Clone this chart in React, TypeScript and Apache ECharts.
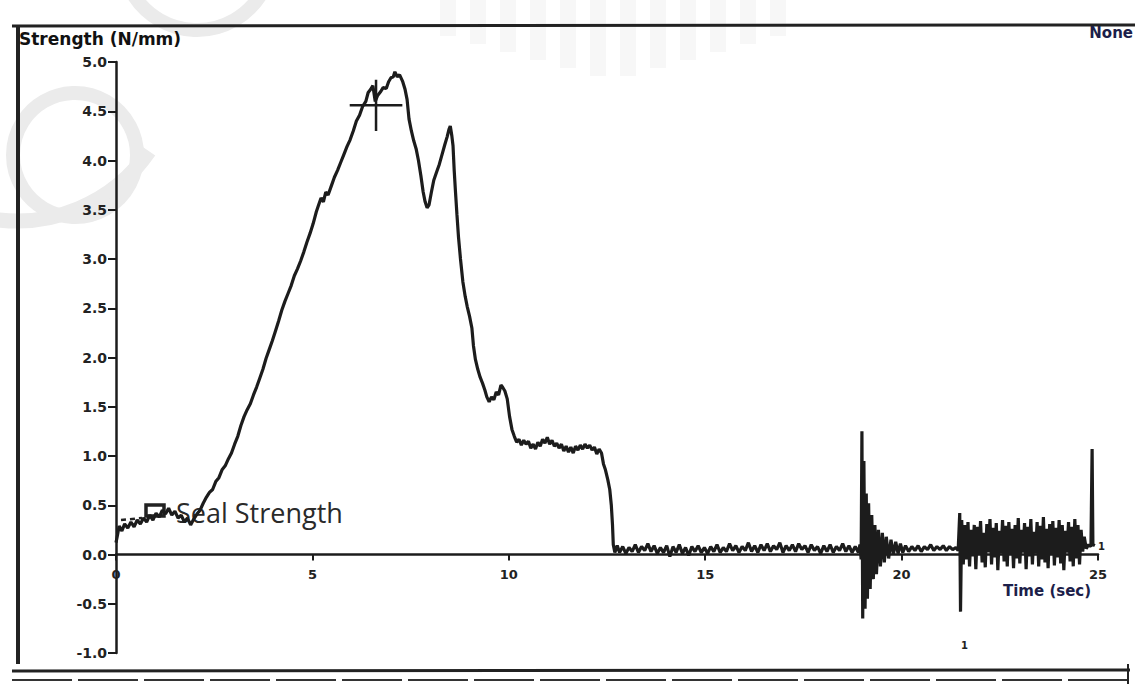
import React, { useEffect, useRef } from "react";
import * as echarts from "echarts";

// Seal strength trace, [time (s), strength (N/mm)]
const startPlateau: [number, number][] = [
  [0, 0.12], [0.04, 0.2], [0.08, 0.29], [0.15, 0.24], [0.22, 0.31], [0.3, 0.27], [0.38, 0.33],
  [0.46, 0.28], [0.54, 0.35], [0.62, 0.31], [0.7, 0.37], [0.78, 0.33], [0.86, 0.4], [0.94, 0.35],
  [1.02, 0.42], [1.1, 0.38], [1.18, 0.45], [1.26, 0.41], [1.34, 0.47], [1.42, 0.4], [1.5, 0.44],
  [1.58, 0.37], [1.66, 0.4], [1.74, 0.33], [1.82, 0.37], [1.9, 0.3], [1.98, 0.36], [2.06, 0.41],
];

const loadingRamp: [number, number][] = [
  [2.14, 0.45], [2.22, 0.52], [2.3, 0.58], [2.38, 0.63], [2.46, 0.66], [2.54, 0.74], [2.62, 0.78],
  [2.7, 0.86], [2.78, 0.9], [2.86, 0.97], [2.94, 1.03], [3.02, 1.12], [3.1, 1.2], [3.18, 1.31],
  [3.26, 1.4], [3.34, 1.47], [3.42, 1.53], [3.5, 1.62], [3.58, 1.7], [3.66, 1.79], [3.74, 1.88],
  [3.82, 1.99], [3.9, 2.08], [3.98, 2.17], [4.06, 2.27], [4.14, 2.37], [4.22, 2.48], [4.3, 2.57],
  [4.38, 2.65], [4.46, 2.73], [4.54, 2.83], [4.62, 2.9], [4.7, 2.98], [4.78, 3.07], [4.86, 3.17],
  [4.94, 3.26], [5.02, 3.36], [5.1, 3.48], [5.16, 3.55], [5.22, 3.62], [5.28, 3.58], [5.34, 3.68],
  [5.4, 3.65], [5.48, 3.74], [5.56, 3.83], [5.64, 3.9], [5.72, 3.98], [5.8, 4.06], [5.88, 4.14],
  [5.96, 4.21], [6.04, 4.3], [6.12, 4.4], [6.2, 4.46], [6.28, 4.55], [6.36, 4.6], [6.42, 4.69],
  [6.48, 4.72], [6.54, 4.76], [6.6, 4.6], [6.66, 4.66], [6.74, 4.7], [6.8, 4.74], [6.88, 4.73],
  [6.94, 4.8], [7.0, 4.84], [7.06, 4.85], [7.1, 4.9], [7.16, 4.85], [7.22, 4.87], [7.3, 4.8],
];

const peelRegion: [number, number][] = [
  [7.36, 4.72], [7.41, 4.62], [7.46, 4.42], [7.52, 4.3], [7.58, 4.2], [7.64, 4.12], [7.7, 4.0],
  [7.76, 3.85], [7.82, 3.68], [7.87, 3.58], [7.92, 3.52], [7.97, 3.55], [8.03, 3.68], [8.09, 3.8],
  [8.16, 3.88], [8.23, 3.96], [8.3, 4.06], [8.37, 4.16], [8.43, 4.24], [8.48, 4.32], [8.51, 4.35],
  [8.55, 4.25], [8.58, 4.15], [8.61, 3.9], [8.64, 3.7], [8.68, 3.45], [8.72, 3.22], [8.77, 3.0],
  [8.83, 2.77], [8.89, 2.62], [8.94, 2.52], [9.0, 2.42], [9.06, 2.3], [9.1, 2.12], [9.15, 1.98],
  [9.21, 1.88], [9.27, 1.8], [9.33, 1.74], [9.39, 1.67], [9.44, 1.6], [9.5, 1.55], [9.56, 1.6],
  [9.62, 1.57], [9.68, 1.65], [9.74, 1.62], [9.8, 1.72], [9.84, 1.7], [9.9, 1.66], [9.96, 1.58],
  [10.02, 1.4], [10.08, 1.27], [10.14, 1.2], [10.2, 1.14], [10.26, 1.17], [10.32, 1.11], [10.38, 1.16],
  [10.44, 1.12], [10.5, 1.15], [10.56, 1.08], [10.62, 1.12], [10.68, 1.07], [10.74, 1.14], [10.8, 1.1],
  [10.86, 1.17], [10.92, 1.13], [10.98, 1.19], [11.04, 1.12], [11.1, 1.16], [11.16, 1.1], [11.22, 1.13],
  [11.28, 1.08], [11.34, 1.12], [11.4, 1.05], [11.46, 1.1], [11.52, 1.04], [11.58, 1.09], [11.64, 1.03],
  [11.7, 1.1], [11.76, 1.06], [11.82, 1.11], [11.88, 1.07], [11.94, 1.12], [12.0, 1.08], [12.06, 1.11],
  [12.12, 1.06], [12.18, 1.09], [12.24, 1.02], [12.3, 1.07], [12.36, 1.03], [12.41, 0.92], [12.46, 0.86],
  [12.52, 0.76], [12.57, 0.66], [12.61, 0.5], [12.64, 0.3], [12.66, 0.1], [12.7, 0.02],
];

const residualNoise: [number, number][] = [
  [12.76, 0.09], [12.82, 0.02], [12.9, 0.08], [12.98, 0.01], [13.06, 0.07], [13.14, 0.03], [13.22, 0.1],
  [13.3, 0.02], [13.38, 0.08], [13.46, 0.04], [13.54, 0.11], [13.62, 0.03], [13.7, 0.09], [13.78, 0.01],
  [13.86, 0.07], [13.94, 0.02], [14.02, 0.09], [14.1, -0.02], [14.18, 0.08], [14.26, 0.02], [14.34, 0.1],
  [14.42, 0.01], [14.5, 0.07], [14.58, -0.01], [14.66, 0.08], [14.74, 0.03], [14.82, 0.09], [14.9, 0.02],
  [14.98, 0.07], [15.06, 0.01], [15.14, 0.08], [15.22, 0.03], [15.3, 0.1], [15.38, 0.02], [15.46, 0.07],
  [15.54, 0.03], [15.62, 0.11], [15.7, 0.04], [15.78, 0.09], [15.86, 0.02], [15.94, 0.08], [16.02, 0.04],
  [16.1, 0.12], [16.18, 0.03], [16.26, 0.09], [16.34, 0.02], [16.42, 0.1], [16.5, 0.04], [16.58, 0.11],
  [16.66, 0.03], [16.74, 0.09], [16.82, 0.05], [16.9, 0.12], [16.98, 0.02], [17.06, 0.09], [17.14, 0.04],
  [17.22, 0.1], [17.3, 0.03], [17.38, 0.11], [17.46, 0.05], [17.54, 0.09], [17.62, 0.02], [17.7, 0.1],
  [17.78, 0.04], [17.86, 0.08], [17.94, 0.01], [18.02, 0.09], [18.1, 0.03], [18.18, 0.1], [18.26, 0.02],
  [18.34, 0.08], [18.42, 0.04], [18.5, 0.11], [18.58, 0.03], [18.66, 0.09], [18.74, 0.02], [18.82, 0.08],
  [18.9, 0.02],
];

const firstBurst: [number, number][] = [
  [18.94, 0.1], [18.97, -0.05], [18.99, 1.25], [19.01, -0.65], [19.04, 0.95], [19.07, -0.55], [19.1, 0.62],
  [19.13, -0.45], [19.16, 0.52], [19.2, -0.35], [19.24, 0.4], [19.28, -0.25], [19.32, 0.3], [19.36, -0.2],
  [19.41, 0.25], [19.46, -0.12], [19.51, 0.22], [19.56, -0.08], [19.61, 0.18], [19.67, -0.04], [19.73, 0.15],
  [19.79, 0.0], [19.85, 0.13], [19.91, 0.01], [19.97, 0.11], [20.03, 0.02], [20.1, 0.09], [20.18, 0.03],
  [20.26, 0.08], [20.34, 0.04], [20.42, 0.09], [20.5, 0.03], [20.58, 0.08], [20.66, 0.05], [20.74, 0.1],
  [20.82, 0.04], [20.9, 0.08], [20.98, 0.05], [21.06, 0.09], [21.14, 0.04], [21.22, 0.08], [21.3, 0.05],
  [21.38, 0.07], [21.44, 0.04],
];

const tailNoise: [number, number][] = [
  [21.48, 0.42], [21.5, -0.58], [21.53, 0.35], [21.57, -0.1], [21.61, 0.3], [21.65, -0.05], [21.69, 0.33],
  [21.73, -0.12], [21.77, 0.25], [21.81, -0.02], [21.85, 0.3], [21.89, -0.15], [21.93, 0.28], [21.97, 0.0],
  [22.01, 0.34], [22.05, -0.08], [22.09, 0.22], [22.13, -0.13], [22.17, 0.31], [22.21, 0.02], [22.25, 0.36],
  [22.29, -0.1], [22.33, 0.27], [22.37, -0.03], [22.41, 0.32], [22.45, -0.16], [22.49, 0.24], [22.53, 0.01],
  [22.57, 0.35], [22.61, -0.07], [22.65, 0.29], [22.69, -0.12], [22.73, 0.33], [22.77, 0.0], [22.81, 0.26],
  [22.85, -0.14], [22.89, 0.3], [22.93, -0.04], [22.97, 0.37], [23.01, -0.09], [23.05, 0.25], [23.09, 0.02],
  [23.13, 0.32], [23.17, -0.15], [23.21, 0.28], [23.25, -0.02], [23.29, 0.36], [23.33, -0.1], [23.37, 0.23],
  [23.41, 0.01], [23.45, 0.33], [23.49, -0.12], [23.53, 0.29], [23.57, -0.05], [23.61, 0.38], [23.65, -0.08],
  [23.69, 0.26], [23.73, -0.14], [23.77, 0.31], [23.81, 0.0], [23.85, 0.34], [23.89, -0.11], [23.93, 0.27],
  [23.97, -0.03], [24.01, 0.35], [24.05, -0.09], [24.09, 0.3], [24.13, -0.16], [24.17, 0.24], [24.21, 0.02],
  [24.25, 0.33], [24.29, -0.07], [24.33, 0.28], [24.37, -0.12], [24.41, 0.36], [24.45, -0.04], [24.49, 0.3],
  [24.53, -0.1], [24.57, 0.25], [24.61, 0.03], [24.65, 0.18], [24.7, 0.06], [24.76, 0.1], [24.82, 0.08],
  [24.85, 1.07], [24.87, 0.1], [24.92, 0.09],
];

// Peak cursor: centre time, strength, half-width (s), half-height (N/mm)
const peakCursor = { t: 6.62, v: 4.56, halfT: 0.67, halfV: 0.26 };

// Axis ranges and ticks
const yTicks = { min: -1, max: 5, step: 0.5 };
const xTicks = { min: 0, max: 25, step: 5 };

// Stretches of the trace printed in olive ink
const oliveSpans: [number, number][] = [[11.3, 12.05], [14.4, 14.9], [20.1, 24.62]];

const INK = "#1c1c1c";
const NAVY = "#1d1f4a";
const WM = "#ebebeb";
const HEAVY = "'DejaVu Sans'";

const GRID = { left: 116, top: 62, width: 982, height: 591 };

export default function App() {
  const ref = useRef<HTMLDivElement>(null);

  useEffect(() => {
    if (!ref.current) return;
    const chart = echarts.init(ref.current, null, { renderer: "svg" });

    const trace = [
      ...startPlateau,
      ...loadingRamp,
      ...peelRegion,
      ...residualNoise,
      ...firstBurst,
      ...tailNoise,
    ];

    const cursorH = [
      [peakCursor.t - peakCursor.halfT, peakCursor.v],
      [peakCursor.t + peakCursor.halfT, peakCursor.v],
    ];
    const cursorV = [
      [peakCursor.t, peakCursor.v + peakCursor.halfV],
      [peakCursor.t, peakCursor.v - peakCursor.halfV],
    ];

    // time axis sits on the zero line of the strength axis
    const zeroLift = -GRID.height * (0 - yTicks.min) / (yTicks.max - yTicks.min);

    const stripes: any[] = [];
    for (let i = 0; i < 12; i++) {
      const x = 440 + i * 30;
      const h = 80 - Math.abs(i - 5.5) * 8;
      stripes.push({
        type: "rect",
        shape: { x, y: 0, width: 16, height: h },
        style: { fill: "#f7f7f7" },
        silent: true,
        z: -10,
      });
    }

    chart.setOption({
      animation: false,
      backgroundColor: "#ffffff",
      grid: { ...GRID, containLabel: false },
      xAxis: {
        type: "value",
        min: xTicks.min,
        max: xTicks.max,
        interval: xTicks.step,
        offset: zeroLift,
        axisLine: { onZero: false, lineStyle: { color: INK, width: 2.5 } },
        axisTick: { show: true, length: 6, inside: false, lineStyle: { color: INK, width: 2 } },
        axisLabel: {
          color: "#222",
          fontFamily: HEAVY,
          fontWeight: "bold",
          fontSize: 13,
          margin: 13,
        },
        splitLine: { show: false },
      },
      yAxis: {
        type: "value",
        min: yTicks.min,
        max: yTicks.max,
        interval: yTicks.step,
        axisLine: { show: true, onZero: false, lineStyle: { color: INK, width: 2.5 } },
        axisTick: { show: true, length: 8, inside: false, lineStyle: { color: INK, width: 2 } },
        axisLabel: {
          color: "#222",
          fontFamily: HEAVY,
          fontWeight: "bold",
          fontSize: 14,
          margin: 9,
          formatter: (v: number) => v.toFixed(1),
        },
        splitLine: { show: false },
      },
      visualMap: {
        show: false,
        type: "piecewise",
        seriesIndex: 0,
        dimension: 0,
        pieces: oliveSpans.map(([a, b]) => ({ gt: a, lte: b, color: "#3d4a12" })),
        outOfRange: { color: INK },
      },
      series: [
        {
          name: "Seal Strength",
          type: "line",
          data: trace,
          showSymbol: false,
          lineStyle: { width: 3.2, color: INK },
          z: 3,
        },
        {
          type: "line",
          data: cursorH,
          showSymbol: false,
          lineStyle: { width: 2.5, color: INK },
          z: 4,
        },
        {
          type: "line",
          data: cursorV,
          showSymbol: false,
          lineStyle: { width: 2.5, color: INK },
          z: 4,
        },
      ],
      graphic: {
        elements: [
          // watermark
          ...stripes,
          {
            type: "arc",
            shape: { cx: 17, cy: 61, r: 160, startAngle: 0.6, endAngle: 1.75, clockwise: true },
            style: { stroke: WM, lineWidth: 15, fill: "none" },
            silent: true,
            z: -10,
          },
          {
            type: "arc",
            shape: { cx: 75, cy: 155, r: 62, startAngle: 0, endAngle: Math.PI * 2 },
            style: { stroke: WM, lineWidth: 14, fill: "none" },
            silent: true,
            z: -10,
          },
          {
            type: "arc",
            shape: { cx: 197, cy: -45, r: 75, startAngle: 0, endAngle: Math.PI * 2 },
            style: { stroke: WM, lineWidth: 14, fill: "none" },
            silent: true,
            z: -10,
          },
          // frame
          { type: "line", shape: { x1: 12, y1: 26, x2: 1135, y2: 25 }, style: { stroke: "#222", lineWidth: 3 }, z: 5 },
          { type: "line", shape: { x1: 18, y1: 26, x2: 18, y2: 664 }, style: { stroke: "#222", lineWidth: 4 }, z: 5 },
          { type: "line", shape: { x1: 12, y1: 671, x2: 1130, y2: 670 }, style: { stroke: "#222", lineWidth: 3 }, z: 5 },
          { type: "line", shape: { x1: 12, y1: 680, x2: 1128, y2: 680 }, style: { stroke: "#333", lineWidth: 2, lineDash: [60, 6] }, z: 5 },
          { type: "line", shape: { x1: 1128, y1: 664, x2: 1128, y2: 684 }, style: { stroke: "#222", lineWidth: 2 }, z: 5 },
          // titles
          {
            type: "text",
            left: 19,
            top: 30,
            style: { text: "Strength (N/mm)", fill: "#111", font: `bold 17px ${HEAVY}` },
            z: 6,
          },
          {
            type: "text",
            right: 4,
            top: 25,
            style: { text: "None", fill: NAVY, font: `bold 15px ${HEAVY}` },
            z: 6,
          },
          {
            type: "text",
            left: 1003,
            top: 583,
            style: { text: "Time (sec)", fill: NAVY, font: `bold 15px ${HEAVY}` },
            z: 6,
          },
          { type: "text", left: 1098, top: 541, style: { text: "1", fill: "#222", font: `bold 10px ${HEAVY}` }, z: 6 },
          { type: "text", left: 961, top: 640, style: { text: "1", fill: "#222", font: `bold 10px ${HEAVY}` }, z: 6 },
          // legend
          {
            type: "line",
            shape: { x1: 121, y1: 520, x2: 142, y2: 518 },
            style: { stroke: "#222", lineWidth: 2.5, lineDash: [5, 4] },
            z: 1,
          },
          {
            type: "rect",
            shape: { x: 146, y: 505, width: 18, height: 11 },
            style: { stroke: "#222", lineWidth: 3.5, fill: "#fff" },
            z: 1,
          },
          {
            type: "text",
            x: 176,
            y: 512,
            style: {
              text: "Seal Strength",
              fill: "#2a2a2a",
              font: "27px 'Open Sans'",
              verticalAlign: "middle",
            },
            z: 1,
          },
        ],
      },
    });

    return () => chart.dispose();
  }, []);

  return (
    <div
      ref={ref}
      style={{ position: "absolute", left: 0, top: 0, width: 1137, height: 684, background: "#fff" }}
    />
  );
}
